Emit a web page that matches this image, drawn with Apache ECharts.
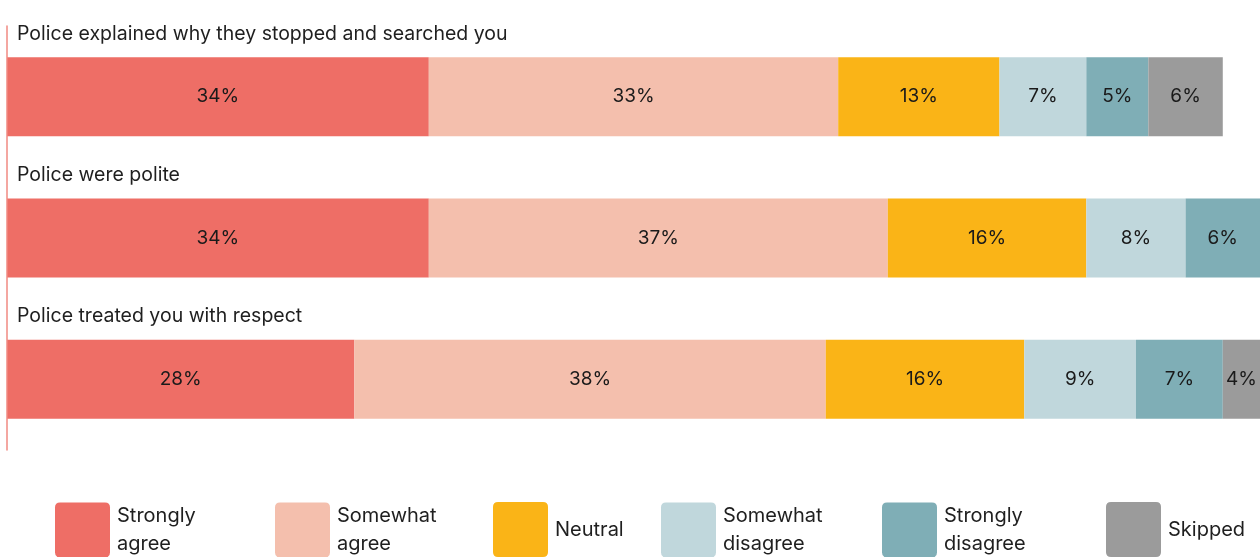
<!DOCTYPE html>
<html>
<head>
<meta charset="utf-8">
<script src="https://cdn.jsdelivr.net/npm/echarts@6/dist/echarts.min.js"></script>
<style>
  html, body { margin: 0; padding: 0; background: #ffffff; overflow: hidden; }
  #chart { width: 1260px; height: 557px; }
</style>
</head>
<body>
<div id="chart"></div>
<script>
// Survey statements (one bar per statement)
const statements = [
  'Police explained why they stopped and searched you',
  'Police were polite',
  'Police treated you with respect'
];

// Response shares in percent, per statement
const stronglyAgree    = [34, 34, 28];
const somewhatAgree    = [33, 37, 38];
const neutral          = [13, 16, 16];
const somewhatDisagree = [7, 8, 9];
const stronglyDisagree = [5, 6, 7];
const skipped          = [6, null, 4];

const responseNames = ['Strongly agree', 'Somewhat agree', 'Neutral', 'Somewhat disagree', 'Strongly disagree', 'Skipped'];
const legendLabels  = ['Strongly\nagree', 'Somewhat\nagree', 'Neutral', 'Somewhat\ndisagree', 'Strongly\ndisagree', 'Skipped'];
const responseData  = [stronglyAgree, somewhatAgree, neutral, somewhatDisagree, stronglyDisagree, skipped];
const colors = ['#EE6E66', '#F4BFAD', '#FAB417', '#C0D7DC', '#7FAEB6', '#9B9B9B'];

// Horizontal placement of each legend entry
const legendLeft = [55, 275, 493, 661, 882, 1106];

const FONT = 'Inter, "Noto Sans", sans-serif';
const ICON = 'path://M5,0 L50,0 Q55,0 55,5 L55,50 Q55,55 50,55 L5,55 Q0,55 0,50 L0,5 Q0,0 5,0 Z';

const chart = echarts.init(document.getElementById('chart'), null, { renderer: 'canvas' });

const option = {
  backgroundColor: '#ffffff',
  animation: false,
  textStyle: { fontFamily: FONT },
  grid: { left: 7, right: 0, top: 26, height: 424, containLabel: false },
  xAxis: {
    type: 'value',
    min: 0,
    max: 101,
    show: false
  },
  yAxis: {
    type: 'category',
    data: statements,
    inverse: true,
    z: 10,
    axisLine: { show: true, lineStyle: { color: '#F08A82', width: 1.5 } },
    axisTick: { show: false },
    splitLine: { show: false },
    axisLabel: {
      show: true,
      interval: 0,
      hideOverlap: false,
      inside: true,
      margin: 10,
      verticalAlign: 'middle',
      // statement text sits above its bar: a tall blank line below pushes it up
      formatter: v => '{t|' + v + '}\n{g| }',
      rich: {
        t: { color: '#1f1f1f', fontSize: 19.5, fontFamily: FONT, lineHeight: 24 },
        g: { fontSize: 10, lineHeight: 126 }
      }
    }
  },
  legend: responseNames.map((name, i) => ({
    data: [name],
    left: legendLeft[i],
    top: 502,
    padding: 0,
    orient: 'horizontal',
    itemWidth: 55,
    itemHeight: 55,
    icon: ICON,
    selectedMode: false,
    formatter: () => legendLabels[i],
    textStyle: {
      fontFamily: FONT,
      fontSize: 20,
      lineHeight: 28,
      color: '#1f1f1f',
      padding: [0, 0, 0, 2]
    }
  })),
  series: responseNames.map((name, i) => ({
    name: name,
    type: 'bar',
    stack: 'total',
    barWidth: 79,
    clip: true,
    data: responseData[i],
    itemStyle: { color: colors[i] },
    label: {
      show: true,
      position: 'inside',
      formatter: p => p.value + '%',
      color: '#1a1a1a',
      fontSize: 19,
      fontFamily: FONT
    }
  }))
};

chart.setOption(option);
</script>
</body>
</html>
